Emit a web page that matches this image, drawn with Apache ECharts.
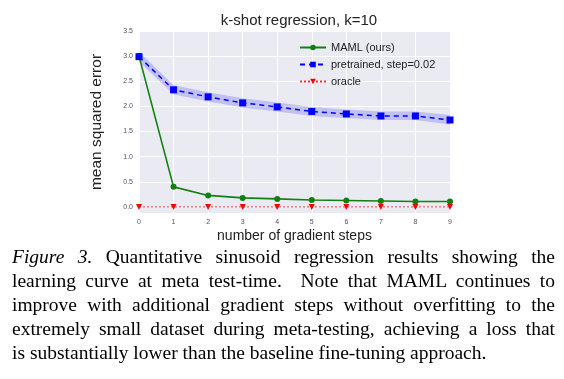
<!DOCTYPE html>
<html><head><meta charset="utf-8">
<script src="https://cdn.jsdelivr.net/npm/echarts@6/dist/echarts.min.js"></script>
<style>
html,body{margin:0;padding:0;background:#fff;}
#c{position:absolute;left:0;top:0;width:564px;height:379px;}
#cap{position:absolute;left:12px;top:245px;width:543px;font-family:"Liberation Serif","DejaVu Serif",serif;font-size:19.5px;line-height:24px;color:#000;}
#cap div{text-align:justify;text-align-last:justify;white-space:nowrap;}
#cap div.last{text-align-last:left;}
</style></head><body>
<div id="c"></div>
<div id="cap">
<div><i>Figure 3.</i> Quantitative sinusoid regression results showing the</div>
<div>learning curve at meta test-time.&nbsp; Note that MAML continues to</div>
<div>improve with additional gradient steps without overfitting to the</div>
<div>extremely small dataset during meta-testing, achieving a loss that</div>
<div class="last">is substantially lower than the baseline fine-tuning approach.</div>
</div>
<script>
const steps = ['0','1','2','3','4','5','6','7','8','9'];
const maml = [3.0,0.40,0.23,0.18,0.16,0.14,0.13,0.12,0.11,0.11];
const pretrained = [2.99,2.33,2.19,2.07,1.99,1.90,1.85,1.81,1.81,1.73];
const pretrainedLow = [2.89,2.24,2.10,1.98,1.90,1.81,1.77,1.73,1.73,1.64];
const pretrainedHigh = [3.09,2.42,2.28,2.16,2.08,1.99,1.94,1.90,1.90,1.83];
const oracle = [0,0,0,0,0,0,0,0,0,0];
const yTicks = [0,0.5,1.0,1.5,2.0,2.5,3.0,3.5];

const chart = echarts.init(document.getElementById('c'));
chart.setOption({
  animation:false,
  title:{text:'k-shot regression, k=10',left:294,top:8,textAlign:'center',
    textStyle:{fontFamily:'Liberation Sans',fontSize:15,fontWeight:'normal',color:'#222'}},
  grid:{left:139,right:114,top:31,bottom:166,show:true,backgroundColor:'#EAEAF2',borderWidth:0},
  legend:{orient:'vertical',left:294,top:37,itemWidth:26,itemHeight:7,itemGap:6,
    data:['MAML (ours)','pretrained, step=0.02','oracle'],
    textStyle:{fontFamily:'Liberation Sans',fontSize:11,color:'#222'}},
  xAxis:{type:'category',data:steps,boundaryGap:false,
    name:'number of gradient steps',nameLocation:'middle',nameGap:16,
    nameTextStyle:{fontFamily:'Liberation Sans',fontSize:14,color:'#222'},
    axisLine:{show:false},axisTick:{show:false},
    axisLabel:{fontFamily:'Liberation Sans',fontSize:7,color:'#555',margin:6},
    splitLine:{show:true,lineStyle:{color:'#fff',width:1}}},
  yAxis:{type:'value',min:-0.12,max:3.5,
    name:'mean squared error',nameLocation:'middle',nameGap:34,
    nameTextStyle:{fontFamily:'Liberation Sans',fontSize:15.5,color:'#222'},
    axisLine:{show:false},
    axisTick:{show:false,customValues:yTicks},
    axisLabel:{customValues:yTicks,fontFamily:'Liberation Sans',fontSize:7,color:'#555',margin:6,
      formatter:v=>v.toFixed(1)},
    splitLine:{lineStyle:{color:'#fff',width:1}}},
  series:[
    {name:'bandLow',type:'line',data:pretrainedLow,stack:'band',symbol:'none',
      lineStyle:{opacity:0},silent:true,z:1},
    {name:'bandHigh',type:'line',data:pretrainedHigh.map((v,i)=>v-pretrainedLow[i]),stack:'band',symbol:'none',
      lineStyle:{opacity:0},areaStyle:{color:'rgba(60,60,255,0.34)'},silent:true,z:1},
    {name:'MAML (ours)',type:'line',data:maml,symbol:'circle',symbolSize:6,
      itemStyle:{color:'#108010'},lineStyle:{color:'#108010',width:1.6},z:3},
    {name:'pretrained, step=0.02',type:'line',data:pretrained,symbol:'rect',symbolSize:7,
      itemStyle:{color:'#0000FF'},lineStyle:{color:'#0000FF',width:1.5,type:[5,4]},z:3},
    {name:'oracle',type:'line',data:oracle,symbol:'triangle',symbolRotate:180,symbolSize:6,
      itemStyle:{color:'#FF0000'},lineStyle:{color:'#FF3333',width:1,type:[2,2]},z:3,clip:false}
  ]
});
</script>
</body></html>
